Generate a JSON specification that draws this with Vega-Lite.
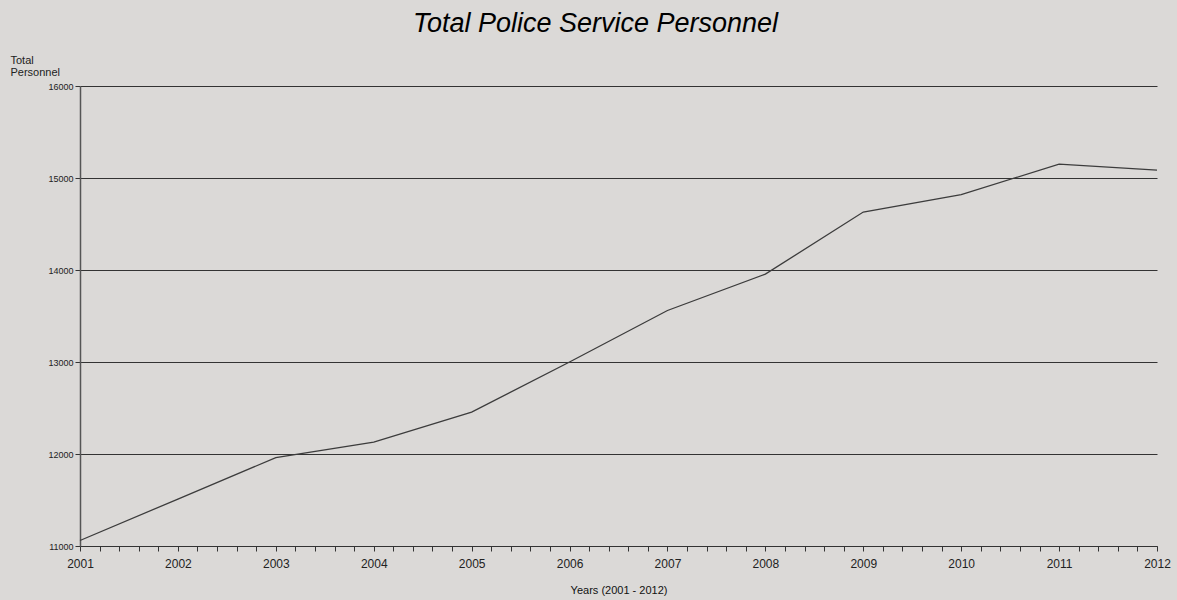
{
  "$schema": "https://vega.github.io/schema/vega-lite/v6.json",
  "width": 1077,
  "height": 460,
  "autosize": {"type": "none"},
  "padding": {"left": 80, "top": 86, "right": 20, "bottom": 54},
  "background": "#dbd9d7",
  "title": {
    "text": "Total Police Service Personnel",
    "font": "Liberation Sans",
    "fontStyle": "italic",
    "fontWeight": "normal",
    "fontSize": 27,
    "color": "#000000",
    "anchor": "middle",
    "dx": -23,
    "baseline": "alphabetic",
    "offset": -5
  },
  "data": {
    "values": [
      {"Year": 2001, "Personnel": 11060},
      {"Year": 2002, "Personnel": 11510},
      {"Year": 2003, "Personnel": 11960},
      {"Year": 2004, "Personnel": 12130},
      {"Year": 2005, "Personnel": 12455},
      {"Year": 2006, "Personnel": 13000},
      {"Year": 2007, "Personnel": 13560},
      {"Year": 2008, "Personnel": 13955},
      {"Year": 2009, "Personnel": 14630},
      {"Year": 2010, "Personnel": 14820},
      {"Year": 2011, "Personnel": 15150},
      {"Year": 2012, "Personnel": 15085}
    ]
  },
  "mark": {"type": "line", "color": "#3c3c3c", "strokeWidth": 1.3, "clip": false},
  "encoding": {
    "x": {
      "field": "Year",
      "type": "quantitative",
      "scale": {"domain": [2001, 2012], "nice": false, "zero": false},
      "axis": {
        "title": "Years (2001 - 2012)",
        "grid": false,
        "values": [2001, 2001.2, 2001.4, 2001.6, 2001.8, 2002, 2002.2, 2002.4, 2002.6, 2002.8, 2003, 2003.2, 2003.4, 2003.6, 2003.8, 2004, 2004.2, 2004.4, 2004.6, 2004.8, 2005, 2005.2, 2005.4, 2005.6, 2005.8, 2006, 2006.2, 2006.4, 2006.6, 2006.8, 2007, 2007.2, 2007.4, 2007.6, 2007.8, 2008, 2008.2, 2008.4, 2008.6, 2008.8, 2009, 2009.2, 2009.4, 2009.6, 2009.8, 2010, 2010.2, 2010.4, 2010.6, 2010.8, 2011, 2011.2, 2011.4, 2011.6, 2011.8, 2012],
        "labelExpr": "datum.value % 1 == 0 ? datum.value : ''",
        "tickSize": 5,
        "tickColor": "#333333",
        "domainColor": "#333333",
        "domainWidth": 1.2,
        "labelFont": "Liberation Sans",
        "labelFontSize": 12,
        "labelColor": "#222222",
        "labelPadding": 7,
        "labelOverlap": false,
        "labelFlush": false,
        "titleFont": "Liberation Sans",
        "titleFontSize": 11,
        "titleFontWeight": "normal",
        "titleColor": "#111111",
        "titlePadding": 15,
        "encode": {
          "ticks": {
            "update": {
              "y2": {"signal": "datum.value % 1 == 0 ? 5 : 3"}
            }
          }
        }
      }
    },
    "y": {
      "field": "Personnel",
      "type": "quantitative",
      "scale": {"domain": [11000, 16000], "nice": false, "zero": false},
      "axis": {
        "title": ["Total", "Personnel"],
        "titleAngle": 0,
        "titleAlign": "left",
        "titleBaseline": "alphabetic",
        "titleX": -70,
        "titleY": -23,
        "titleLineHeight": 12,
        "titleFont": "Liberation Sans",
        "titleFontSize": 11,
        "titleFontWeight": "normal",
        "titleColor": "#222222",
        "values": [11000, 12000, 13000, 14000, 15000, 16000],
        "format": "d",
        "grid": true,
        "gridColor": "#333333",
        "gridWidth": 1,
        "gridOpacity": 1,
        "tickSize": 5,
        "tickColor": "#333333",
        "domainColor": "#555555",
        "domainWidth": 1.5,
        "labelFont": "Liberation Sans",
        "labelFontSize": 9,
        "labelColor": "#222222",
        "labelPadding": 2
      }
    }
  },
  "config": {
    "view": {"stroke": null}
  }
}
